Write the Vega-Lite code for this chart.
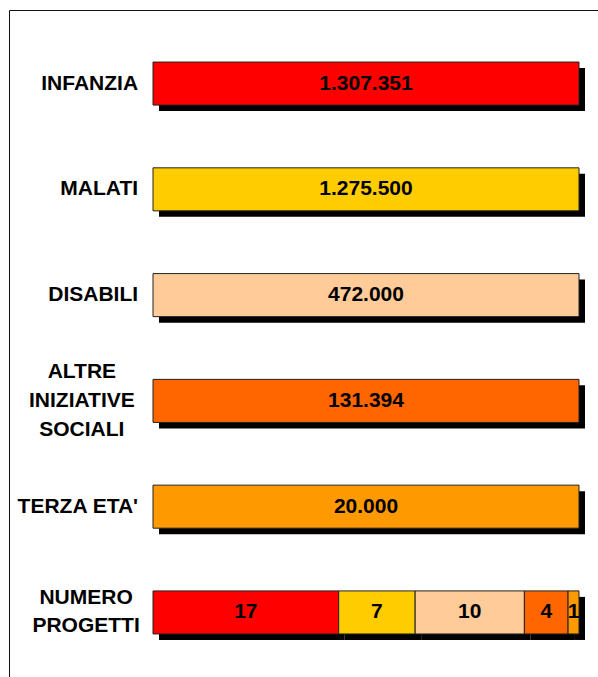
{
  "$schema": "https://vega.github.io/schema/vega-lite/v6.json",
  "width": 600,
  "height": 676,
  "autosize": {"type": "none"},
  "padding": {"left": 9, "top": 10, "right": 0, "bottom": 0},
  "background": "white",
  "config": {"view": {"stroke": "#111", "strokeWidth": 1}, "font": "Liberation Sans"},
  "data": {"values": [
    {"row": "INFANZIA", "label": "INFANZIA", "lines": 1, "segment": "Infanzia", "ord": 1, "value": 1, "text": "1.307.351"},
    {"row": "MALATI", "label": "MALATI", "lines": 1, "segment": "Malati", "ord": 1, "value": 1, "text": "1.275.500"},
    {"row": "DISABILI", "label": "DISABILI", "lines": 1, "segment": "Disabili", "ord": 1, "value": 1, "text": "472.000"},
    {"row": "ALTRE", "label": "ALTRE\nINIZIATIVE\nSOCIALI", "lines": 3, "segment": "Altre", "ord": 1, "value": 1, "text": "131.394"},
    {"row": "TERZA", "label": "TERZA ETA'", "lines": 1, "segment": "Terza", "ord": 1, "value": 1, "text": "20.000"},
    {"row": "NUMERO", "label": "NUMERO\nPROGETTI", "lines": 2, "segment": "Infanzia", "ord": 1, "value": 17, "text": "17"},
    {"row": "NUMERO", "label": "NUMERO\nPROGETTI", "lines": 2, "segment": "Malati", "ord": 2, "value": 7, "text": "7"},
    {"row": "NUMERO", "label": "NUMERO\nPROGETTI", "lines": 2, "segment": "Disabili", "ord": 3, "value": 10, "text": "10"},
    {"row": "NUMERO", "label": "NUMERO\nPROGETTI", "lines": 2, "segment": "Altre", "ord": 4, "value": 4, "text": "4"},
    {"row": "NUMERO", "label": "NUMERO\nPROGETTI", "lines": 2, "segment": "Terza", "ord": 5, "value": 1, "text": "1"}
  ]},
  "encoding": {
    "y": {
      "field": "row", "type": "nominal",
      "sort": ["INFANZIA", "MALATI", "DISABILI", "ALTRE", "TERZA", "NUMERO"],
      "scale": {"paddingInner": 0.593, "paddingOuter": 0.492},
      "axis": null
    }
  },
  "layer": [
    {
      "mark": {"type": "bar", "color": "#000", "xOffset": 6, "yOffset": 6},
      "encoding": {
        "x": {"field": "value", "type": "quantitative", "stack": "normalize", "scale": {"domain": [0, 1], "range": [144, 570], "nice": false}, "axis": null},
        "order": {"field": "ord", "type": "quantitative"}
      }
    },
    {
      "mark": {"type": "bar", "stroke": "#222", "strokeWidth": 1},
      "encoding": {
        "x": {"field": "value", "type": "quantitative", "stack": "normalize"},
        "order": {"field": "ord", "type": "quantitative"},
        "color": {
          "field": "segment", "type": "nominal",
          "scale": {"domain": ["Infanzia", "Malati", "Disabili", "Altre", "Terza"], "range": ["#FF0000", "#FFCC00", "#FFCC99", "#FF6600", "#FF9900"]},
          "legend": null
        }
      }
    },
    {
      "mark": {"type": "text", "fontWeight": "bold", "fontSize": 21, "color": "#000", "baseline": "middle", "align": "center"},
      "encoding": {
        "x": {"field": "value", "type": "quantitative", "stack": "normalize", "bandPosition": 0.5},
        "order": {"field": "ord", "type": "quantitative"},
        "text": {"field": "text"}
      }
    },
    {
      "transform": [{"filter": "datum.ord == 1 && datum.lines == 1"}],
      "mark": {"type": "text", "fontWeight": "bold", "fontSize": 21, "color": "#000", "baseline": "middle", "align": "right"},
      "encoding": {
        "x": {"datum": -0.035},
        "text": {"field": "label"}
      }
    },
    {
      "transform": [{"filter": "datum.ord == 1 && datum.lines == 2"}],
      "mark": {"type": "text", "fontWeight": "bold", "fontSize": 21, "color": "#000", "baseline": "middle", "align": "center", "lineBreak": "\n", "lineHeight": 28, "dy": -14},
      "encoding": {
        "x": {"datum": -0.157},
        "text": {"field": "label"}
      }
    },
    {
      "transform": [{"filter": "datum.ord == 1 && datum.lines == 3"}],
      "mark": {"type": "text", "fontWeight": "bold", "fontSize": 21, "color": "#000", "baseline": "middle", "align": "center", "lineBreak": "\n", "lineHeight": 29, "dy": -29},
      "encoding": {
        "x": {"datum": -0.167},
        "text": {"field": "label"}
      }
    }
  ]
}
